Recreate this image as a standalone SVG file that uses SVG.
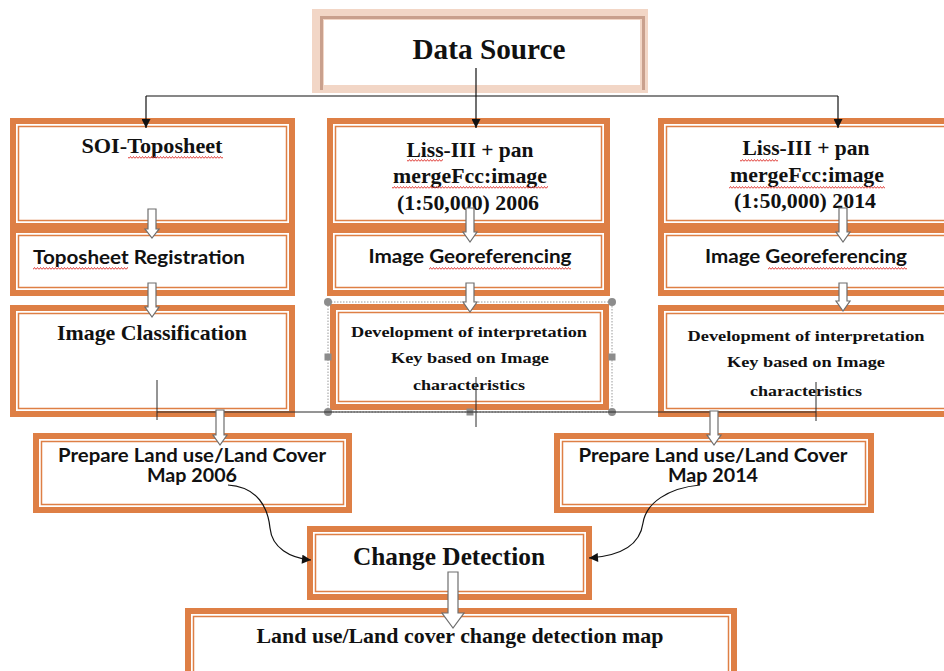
<svg xmlns="http://www.w3.org/2000/svg" width="944" height="671" viewBox="0 0 944 671">
  <style>
    .frame { fill: #de7f45; }
    .inner { fill: #ffffff; }
    .line { fill: none; stroke: #de7f45; stroke-width: 1.5; }
    .serif { font-family: "Liberation Serif", "Times New Roman", serif; font-weight: bold; fill: #111111; }
    .sans { font-family: Lato, "Liberation Sans", Arial, sans-serif; font-weight: bold; fill: #111111; }
    .blk { fill: #ffffff; stroke: #6e6e6e; stroke-width: 1.2; stroke-linejoin: miter; }
    .conn { fill: none; stroke: #111111; stroke-width: 1.2; }
    .thin { fill: none; stroke: #2a2a2a; stroke-width: 1; }
    .wavy { fill: url(#wavy); }
    .handle { fill: #8c8c8c; }
  </style>
  <defs>
    <marker id="ah" viewBox="0 0 10 10" refX="10" refY="5" markerWidth="10" markerHeight="9" markerUnits="userSpaceOnUse" orient="auto">
      <path d="M0,0 L10,5 L0,10 z" fill="#111111"/>
    </marker>
    <pattern id="wavy" width="3" height="3" patternUnits="userSpaceOnUse">
      <path d="M0,2.5 L1.5,0.5 L3,2.5" fill="none" stroke="#e0403a" stroke-width="1"/>
    </pattern>
  </defs>
  <rect width="944" height="671" fill="#ffffff"/>

  <!-- Data Source header -->
  <g id="data-source">
    <rect x="312" y="9" width="336" height="84" fill="#f2d6c6"/>
    <path d="M321.5,90 V17.5 H643.5 V90" fill="none" stroke="#c9a08d" stroke-width="3"/>
    <rect x="324" y="20" width="316" height="65" fill="#ffffff"/>
    <text class="serif" x="489" y="59" font-size="29" text-anchor="middle" textLength="153" lengthAdjust="spacingAndGlyphs">Data Source</text>
  </g>

  <!-- Left column -->
  <g id="soi-toposheet">
    <rect class="frame" x="10" y="118" width="285" height="111"/>
    <rect class="inner" x="16" y="124" width="273" height="99"/>
    <rect class="line" x="18.5" y="126.5" width="268" height="94"/>
    <text class="serif" x="152" y="153" font-size="20" text-anchor="middle" textLength="141" lengthAdjust="spacingAndGlyphs">SOI-Toposheet</text>
    <rect class="wavy" x="128" y="156" width="95" height="3"/>
  </g>
  <g id="toposheet-registration">
    <rect class="frame" x="10" y="227" width="285" height="69"/>
    <rect class="inner" x="16" y="233" width="273" height="57"/>
    <rect class="line" x="18.5" y="235.5" width="268" height="52"/>
    <text class="sans" x="139" y="264" font-size="19" text-anchor="middle" textLength="212" lengthAdjust="spacingAndGlyphs">Toposheet Registration</text>
    <rect class="wavy" x="33" y="267" width="95" height="3"/>
  </g>
  <g id="image-classification">
    <rect class="frame" x="10" y="305" width="285" height="112"/>
    <rect class="inner" x="16" y="311" width="273" height="100"/>
    <rect class="line" x="18.5" y="313.5" width="268" height="95"/>
    <text class="serif" x="152" y="340" font-size="21" text-anchor="middle" textLength="190" lengthAdjust="spacingAndGlyphs">Image Classification</text>
  </g>

  <!-- Middle column (2006) -->
  <g id="liss-2006">
    <rect class="frame" x="327" y="118" width="283" height="111"/>
    <rect class="inner" x="333" y="124" width="271" height="99"/>
    <rect class="line" x="335.5" y="126.5" width="266" height="94"/>
    <text class="serif" x="470" y="157" font-size="21" text-anchor="middle" textLength="127" lengthAdjust="spacingAndGlyphs">Liss-III + pan</text>
    <text class="serif" x="470" y="183" font-size="21" text-anchor="middle" textLength="154" lengthAdjust="spacingAndGlyphs">mergeFcc:image</text>
    <text class="serif" x="468" y="210" font-size="21" text-anchor="middle" textLength="142" lengthAdjust="spacingAndGlyphs">(1:50,000) 2006</text>
    <rect class="wavy" x="407" y="159" width="36" height="3"/>
    <rect class="wavy" x="392" y="186" width="156" height="3"/>
  </g>
  <g id="georef-2006">
    <rect class="frame" x="327" y="227" width="283" height="69"/>
    <rect class="inner" x="333" y="233" width="271" height="57"/>
    <rect class="line" x="335.5" y="235.5" width="266" height="52"/>
    <text class="sans" x="470" y="263" font-size="19" text-anchor="middle" textLength="203" lengthAdjust="spacingAndGlyphs">Image Georeferencing</text>
    <rect class="wavy" x="429" y="267" width="142" height="3"/>
  </g>
  <g id="key-2006">
    <rect class="frame" x="330" y="304" width="279" height="106"/>
    <rect class="inner" x="336" y="310" width="267" height="94"/>
    <rect class="line" x="338.5" y="312.5" width="262" height="89"/>
    <rect x="328" y="302" width="284" height="110" fill="none" stroke="#9a9a9a" stroke-width="1" stroke-dasharray="1.5 1.5"/>
    <text class="serif" x="469" y="337" font-size="15.5" text-anchor="middle" textLength="236" lengthAdjust="spacingAndGlyphs">Development of interpretation</text>
    <text class="serif" x="470" y="363" font-size="15.5" text-anchor="middle" textLength="158" lengthAdjust="spacingAndGlyphs">Key based on Image</text>
    <text class="serif" x="469" y="390" font-size="15.5" text-anchor="middle" textLength="112" lengthAdjust="spacingAndGlyphs">characteristics</text>
    <circle class="handle" cx="328" cy="302" r="4"/>
    <circle class="handle" cx="612" cy="302" r="4"/>
    <circle class="handle" cx="328" cy="412" r="4"/>
    <circle class="handle" cx="612" cy="412" r="4"/>
    <rect class="handle" x="466.5" y="298.5" width="7" height="7"/>
    <rect class="handle" x="324.5" y="353.5" width="7" height="7"/>
    <rect class="handle" x="608.5" y="353.5" width="7" height="7"/>
    <rect class="handle" x="466.5" y="408.5" width="7" height="7"/>
  </g>

  <!-- Right column (2014) -->
  <g id="liss-2014">
    <rect class="frame" x="658" y="118" width="300" height="111"/>
    <rect class="inner" x="664" y="124" width="288" height="99"/>
    <rect class="line" x="666.5" y="126.5" width="283" height="94"/>
    <text class="serif" x="806" y="155" font-size="21" text-anchor="middle" textLength="127" lengthAdjust="spacingAndGlyphs">Liss-III + pan</text>
    <text class="serif" x="807" y="182" font-size="21" text-anchor="middle" textLength="154" lengthAdjust="spacingAndGlyphs">mergeFcc:image</text>
    <text class="serif" x="805" y="208" font-size="21" text-anchor="middle" textLength="142" lengthAdjust="spacingAndGlyphs">(1:50,000) 2014</text>
    <rect class="wavy" x="740" y="159" width="38" height="3"/>
    <rect class="wavy" x="729" y="186" width="156" height="3"/>
  </g>
  <g id="georef-2014">
    <rect class="frame" x="658" y="227" width="300" height="69"/>
    <rect class="inner" x="664" y="233" width="288" height="57"/>
    <rect class="line" x="666.5" y="235.5" width="283" height="52"/>
    <text class="sans" x="806" y="263" font-size="19" text-anchor="middle" textLength="202" lengthAdjust="spacingAndGlyphs">Image Georeferencing</text>
    <rect class="wavy" x="768" y="267" width="139" height="3"/>
  </g>
  <g id="key-2014">
    <rect class="frame" x="658" y="305" width="300" height="112"/>
    <rect class="inner" x="664" y="311" width="288" height="100"/>
    <rect class="line" x="666.5" y="313.5" width="283" height="95"/>
    <text class="serif" x="806" y="341" font-size="15.5" text-anchor="middle" textLength="237" lengthAdjust="spacingAndGlyphs">Development of interpretation</text>
    <text class="serif" x="806" y="367" font-size="15.5" text-anchor="middle" textLength="158" lengthAdjust="spacingAndGlyphs">Key based on Image</text>
    <text class="serif" x="806" y="396" font-size="15.5" text-anchor="middle" textLength="112" lengthAdjust="spacingAndGlyphs">characteristics</text>
  </g>

  <!-- Land use / land cover maps -->
  <g id="map-2006">
    <rect class="frame" x="33" y="433" width="319" height="80"/>
    <rect class="inner" x="39" y="439" width="307" height="68"/>
    <rect class="line" x="41.5" y="441.5" width="302" height="63"/>
    <text class="sans" x="192" y="462" font-size="18" text-anchor="middle" textLength="268" lengthAdjust="spacingAndGlyphs">Prepare Land use/Land Cover</text>
    <text class="sans" x="192" y="482" font-size="18" text-anchor="middle" textLength="90" lengthAdjust="spacingAndGlyphs">Map 2006</text>
  </g>
  <g id="map-2014">
    <rect class="frame" x="554" y="433" width="320" height="80"/>
    <rect class="inner" x="560" y="439" width="308" height="68"/>
    <rect class="line" x="562.5" y="441.5" width="303" height="63"/>
    <text class="sans" x="713" y="462" font-size="18" text-anchor="middle" textLength="269" lengthAdjust="spacingAndGlyphs">Prepare Land use/Land Cover</text>
    <text class="sans" x="713" y="482" font-size="18" text-anchor="middle" textLength="90" lengthAdjust="spacingAndGlyphs">Map 2014</text>
  </g>

  <g id="change-detection">
    <rect class="frame" x="307" y="526" width="285" height="74"/>
    <rect class="inner" x="313" y="532" width="273" height="62"/>
    <rect class="line" x="315.5" y="534.5" width="268" height="57"/>
    <text class="serif" x="449" y="565" font-size="25" text-anchor="middle" textLength="192" lengthAdjust="spacingAndGlyphs">Change Detection</text>
  </g>

  <g id="change-map">
    <rect class="frame" x="185" y="608" width="552" height="80"/>
    <rect class="inner" x="191" y="614" width="540" height="68"/>
    <rect class="line" x="193.5" y="616.5" width="535" height="63"/>
    <text class="serif" x="460" y="643" font-size="22" text-anchor="middle" textLength="407" lengthAdjust="spacingAndGlyphs">Land use/Land cover change detection map</text>
  </g>

  <!-- Connectors -->
  <g id="connectors">
    <line class="conn" x1="146" y1="96" x2="838" y2="96"/>
    <line class="conn" x1="476" y1="68" x2="476" y2="128" marker-end="url(#ah)"/>
    <line class="conn" x1="146" y1="96" x2="146" y2="128" marker-end="url(#ah)"/>
    <line class="conn" x1="838" y1="96" x2="838" y2="128" marker-end="url(#ah)"/>

    <line class="thin" x1="157" y1="412" x2="816" y2="412"/>
    <line class="thin" x1="157" y1="380" x2="157" y2="420"/>
    <line class="thin" x1="476" y1="377" x2="476" y2="427"/>
    <line class="thin" x1="816" y1="382" x2="816" y2="421"/>

    <path class="conn" d="M228,485 C258,487 268,508 270,528 C272,548 290,558 311,560" marker-end="url(#ah)"/>
    <path class="conn" d="M700,485 C668,488 646,503 643,523 C640,545 622,556 589,558" marker-end="url(#ah)"/>

    <polygon class="blk" points="148,209 156,209 156,229 159,229 152,238 145,229 148,229"/>
    <polygon class="blk" points="148,283 156,283 156,307 159,307 152,317 145,307 148,307"/>
    <polygon class="blk" points="466,208 474,208 474,232 477,232 470,242 463,232 466,232"/>
    <polygon class="blk" points="466,283 474,283 474,302 477,302 470,312 463,302 466,302"/>
    <polygon class="blk" points="839,208 847,208 847,232 850,232 843,242 836,232 839,232"/>
    <polygon class="blk" points="839,283 847,283 847,301 850,301 843,311 836,301 839,301"/>
    <polygon class="blk" points="216,410 224,410 224,435 227,435 220,445 213,435 216,435"/>
    <polygon class="blk" points="710,411 718,411 718,435 721,435 714,445 707,435 710,435"/>
    <polygon class="blk" points="448,572 458,572 458,613 464,613 453,628 442,613 448,613"/>
  </g>
</svg>
